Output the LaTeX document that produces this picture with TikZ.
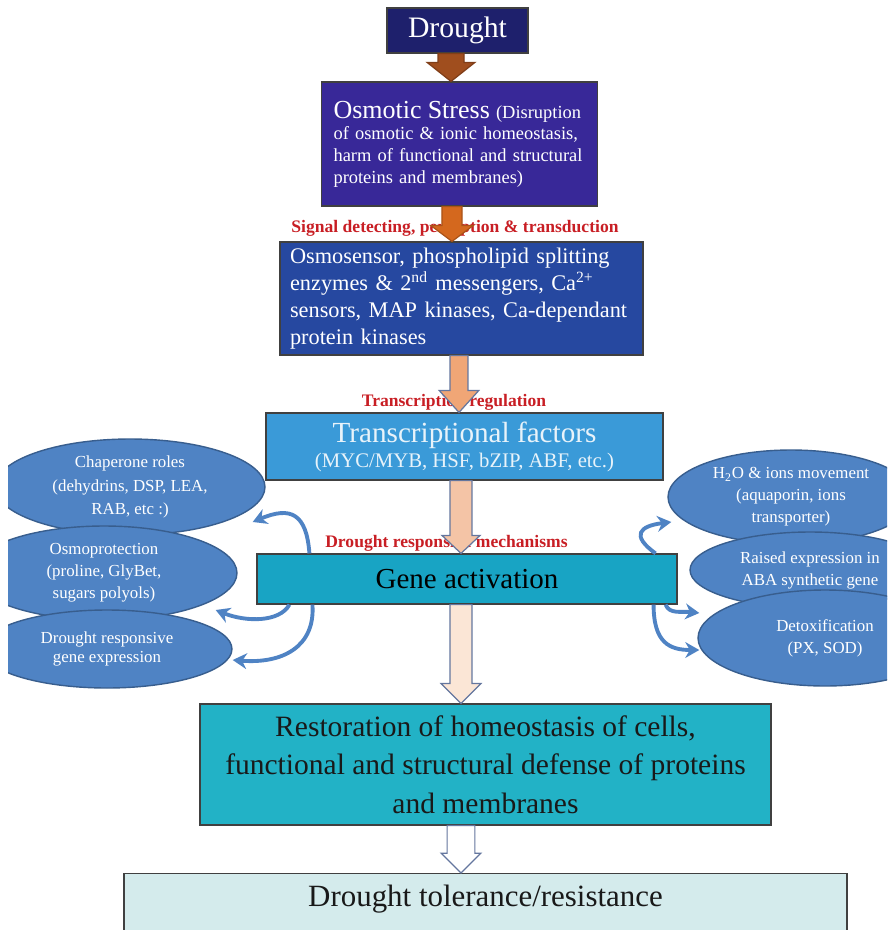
\documentclass[tikz,border=0pt]{standalone}
\usepackage{fontspec}
\setmainfont{Liberation Serif}
\usepackage{tikz}
\usetikzlibrary{arrows.meta,calc,shapes.geometric}
\definecolor{navy}{RGB}{30,32,108}
\definecolor{osmpurple}{RGB}{56,40,152}
\definecolor{sensblue}{RGB}{38,72,160}
\definecolor{tfblue}{RGB}{58,154,216}
\definecolor{tftext}{RGB}{232,243,250}
\definecolor{geneteal}{RGB}{24,164,196}
\definecolor{restteal}{RGB}{34,178,198}
\definecolor{tolcyan}{RGB}{212,235,236}
\definecolor{cuered}{RGB}{200,30,36}
\definecolor{arbrown}{RGB}{160,78,30}
\definecolor{arorange}{RGB}{212,104,30}
\definecolor{arpeach}{RGB}{240,166,118}
\definecolor{arpeachlight}{RGB}{244,196,166}
\definecolor{arcream}{RGB}{251,230,214}
\definecolor{arline}{RGB}{100,118,158}
\definecolor{ellfill}{RGB}{79,131,196}
\definecolor{ellline}{RGB}{56,94,142}
\tikzset{
  stage/.style={rectangle,draw=black!75,line width=0.7pt,align=center,
    inner sep=0pt,text=white},
  % blue ellipses at both sides
  role/.style={ellipse,fill=ellfill,draw=ellline,line width=0.8pt,inner sep=0pt,
    align=center,text=white,font=\fontsize{9.6}{12.5}\selectfont},
  cue/.style={font=\fontsize{10}{12}\selectfont\bfseries,text=cuered},
  flowarr/.style={draw=arline,line width=0.7pt},
  feedarr/.style={draw=ellfill,line width=2.2pt,-{Stealth[length=8pt,width=9pt]}}
}
% a justified line inside a fixed text width
\newcommand{\fullline}[1]{\makebox[\hsize][s]{#1}}
% wide down arrow: [style]{from}{to}{shaft half width}{head half width}{head length}
\newcommand{\blockarrow}[6][]{%
  \filldraw[#1] let \p1=#2, \p2=#3 in
    (\x1-#4,\y1) -- (\x1-#4,\y2+#6) -- (\x1-#5,\y2+#6) -- (\x1,\y2)
    -- (\x1+#5,\y2+#6) -- (\x1+#4,\y2+#6) -- (\x1+#4,\y1) -- cycle;}

\begin{document}
\begin{tikzpicture}[x=0.02cm,y=-0.02cm]
  \useasboundingbox (0,0) rectangle (889,930);
  % side mechanisms, cut at the page edges
  \begin{scope}
    \clip (8,0) rectangle (887,930);
    \node[role,minimum width=5.4cm,minimum height=1.92cm,font=\fontsize{9.6}{13.5}\selectfont] (chap) at (130,487) {Chaperone roles\\(dehydrins, DSP, LEA,\\RAB, etc :)};
    \node[role,minimum width=5.32cm,minimum height=1.88cm] (osmo) at (104,573) {Osmoprotection\\(proline, GlyBet,\\sugars polyols)};
    \node[role,minimum width=5cm,minimum height=1.56cm,font=\fontsize{9.6}{10.8}\selectfont] (resp) at (107,649) {Drought responsive\\gene expression};
    \node[role,minimum width=4.92cm,minimum height=1.88cm] (water) at (791,497) {H\textsubscript{2}O \& ions movement\\(aquaporin, ions\\transporter)};
    \node[role,minimum width=4.8cm,minimum height=1.52cm] (aba) at (810,570) {Raised expression in\\ABA synthetic gene};
    \node[role,minimum width=5.08cm,minimum height=1.92cm] (detox) at (825,638) {Detoxification\\(PX, SOD)};
  \end{scope}

  % main chain
  \node[stage,fill=navy,minimum width=2.82cm,minimum height=0.9cm,
    font=\fontsize{16.9}{20}\selectfont] (drought) at (457.5,30.5) {Drought};
  \node[stage,fill=osmpurple,minimum width=5.52cm,minimum height=2.48cm,text width=5.04cm,
    align=left,font=\fontsize{10.5}{12.3}\selectfont] (osm) at (459.5,144)
    {\fullline{{\fontsize{14.8}{12.3}\selectfont Osmotic Stress} (Disruption}\\
     \fullline{of osmotic \& ionic homeostasis,}\\
     \fullline{harm of functional and structural}\\
     proteins and membranes)};
  \node[stage,fill=sensblue,minimum width=7.26cm,minimum height=2.26cm,text width=6.86cm,
    align=left,font=\fontsize{12.7}{15.3}\selectfont] (sens) at (461.5,298.5)
    {Osmosensor, phospholipid splitting\\
     enzymes \& 2\textsuperscript{nd} messengers, Ca\textsuperscript{2+}\\
     sensors, MAP kinases, Ca-dependant\\
     protein kinases};
  \node[stage,fill=tfblue,text=tftext,minimum width=7.94cm,minimum height=1.34cm,
    font=\fontsize{11.8}{14.2}\selectfont] (tf) at (464.5,446.5)
    {{\fontsize{16.6}{14.2}\selectfont Transcriptional factors}\\(MYC/MYB, HSF, bZIP, ABF, etc.)};
  \node[stage,fill=geneteal,text=black,minimum width=8.4cm,minimum height=1cm,
    font=\fontsize{16.5}{20}\selectfont] (gene) at (467,579) {Gene activation};
  \node[stage,fill=restteal,text=black!90,minimum width=11.42cm,minimum height=2.42cm,
    font=\fontsize{16.8}{21.8}\selectfont] (rest) at (485.5,764.5)
    {Restoration of homeostasis of cells,\\functional and structural defense of proteins\\and membranes};
  \node[stage,fill=tolcyan,text=black!90,anchor=north,minimum width=14.46cm,inner ysep=6.8pt,
    text height=12pt,text depth=30pt,font=\fontsize{17.6}{21}\selectfont] (tol) at (485.5,873)
    {Drought tolerance/resistance};

  % red step labels
  \node[cue] (sigcue) at (455,228) {Signal detecting, perception \& transduction};
  \node[cue] (regcue) at (454,402) {Transcription regulation};
  \node[cue] (mechcue) at (446.5,543) {Drought responsive mechanisms};

  % arrows down the chain
  \blockarrow[flowarr,draw=arbrown!80!black,fill=arbrown]{($(drought.south)+(-6.5,0)$)}{(osm.north)}{7.4pt}{13.6pt}{10.8pt}
  \blockarrow[flowarr,draw=arorange!80!black,fill=arorange]{($(osm.south)+(-7.5,0)$)}{(sens.north)}{5.7pt}{12pt}{9pt}
  \blockarrow[flowarr,fill=arpeach]{($(sens.south)+(-2.5,0)$)}{(tf.north)}{5.1pt}{11.3pt}{12.5pt}
  \blockarrow[flowarr,fill=arpeachlight]{($(tf.south)+(-3.5,0)$)}{(gene.north)}{6.2pt}{10.8pt}{10.2pt}
  \blockarrow[flowarr,fill=arcream]{($(gene.south)+(-6,0)$)}{(rest.north)}{6.2pt}{11.3pt}{11.3pt}
  \blockarrow[flowarr,fill=white]{($(rest.south)+(-24.5,0)$)}{(tol.north)}{7.9pt}{11.3pt}{11.3pt}

  % curved arrows out of gene activation
  \draw[feedarr] ($(gene.north west)+(53,0)$) .. controls +(-3,-40) and +(38,-16) .. ($(chap.east)+(-13,35)$);
  \draw[feedarr] ($(gene.south west)+(33,0)$) .. controls +(-10,18) and +(30,12) .. ($(osmo.east)+(-22,37)$);
  \draw[feedarr] ($(gene.south west)+(56,0)$) .. controls +(3,42) and +(50,4) .. ($(resp.east)+(0,11)$);
  \draw[feedarr] ($(gene.north east)+(-22,0)$) .. controls +(-25,-18) and +(-32,4) .. ($(water.west)+(4,25)$);
  \draw[feedarr] ($(gene.south east)+(-12,0)$) .. controls +(4,10) and +(-18,-2) .. ($(aba.west)+(10,43)$);
  \draw[feedarr] ($(gene.south east)+(-24,0)$) .. controls +(0,38) and +(-30,0) .. ($(detox.west)+(2,12)$);
\end{tikzpicture}
\end{document}
